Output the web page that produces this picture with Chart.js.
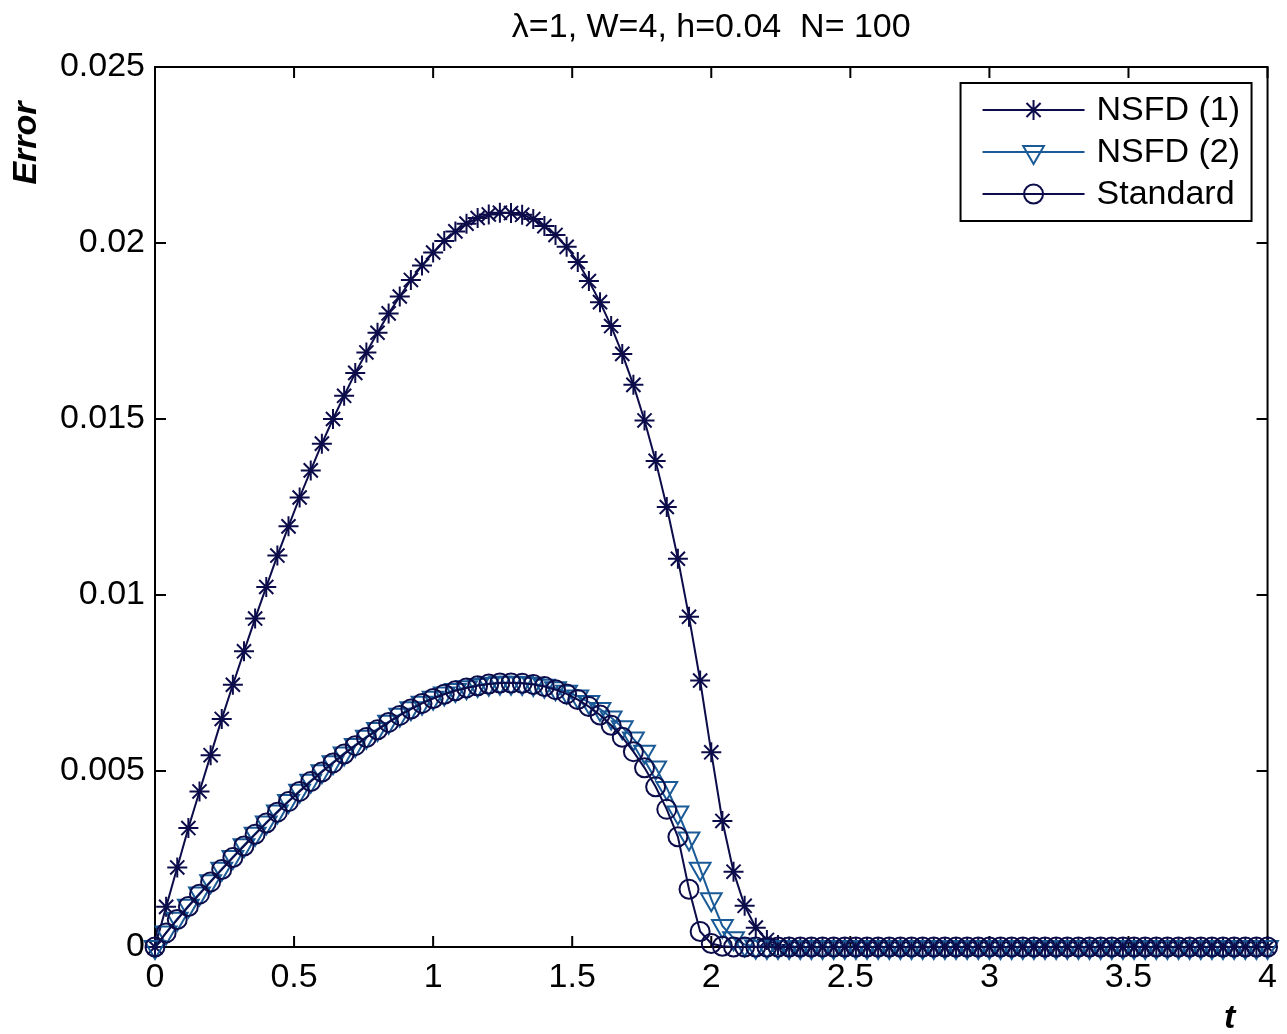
<!DOCTYPE html>
<html lang="en">
<head>
  <meta charset="UTF-8" />
  <title>Error vs t</title>
  <script src="https://cdn.jsdelivr.net/npm/chart.js"></script>
  <style>
    html, body { margin: 0; padding: 0; background: #fff; }
  </style>
</head>
<body>
  <canvas id="errChart" width="1287" height="1034"></canvas>

  <script>
    // time grid (h = 0.04, N = 100)
    const tValues = [
      0, 0.04, 0.08, 0.12, 0.16, 0.20, 0.24, 0.28, 0.32, 0.36,
      0.40, 0.44, 0.48, 0.52, 0.56, 0.60, 0.64, 0.68, 0.72, 0.76,
      0.80, 0.84, 0.88, 0.92, 0.96, 1.00, 1.04, 1.08, 1.12, 1.16,
      1.20, 1.24, 1.28, 1.32, 1.36, 1.40, 1.44, 1.48, 1.52, 1.56,
      1.60, 1.64, 1.68, 1.72, 1.76, 1.80, 1.84, 1.88, 1.92, 1.96,
      2.00, 2.04, 2.08, 2.12, 2.16, 2.20, 2.24, 2.28, 2.32, 2.36,
      2.40, 2.44, 2.48, 2.52, 2.56, 2.60, 2.64, 2.68, 2.72, 2.76,
      2.80, 2.84, 2.88, 2.92, 2.96, 3.00, 3.04, 3.08, 3.12, 3.16,
      3.20, 3.24, 3.28, 3.32, 3.36, 3.40, 3.44, 3.48, 3.52, 3.56,
      3.60, 3.64, 3.68, 3.72, 3.76, 3.80, 3.84, 3.88, 3.92, 3.96,
      4.00
    ];

    const nsfd1 = [
      0, 0.00114, 0.00226, 0.00338, 0.00442, 0.00545, 0.00648, 0.00745, 0.0084, 0.00933,
      0.01023, 0.01112, 0.01195, 0.01277, 0.01354, 0.0143, 0.015, 0.01566, 0.01631, 0.01689,
      0.01745, 0.018, 0.01848, 0.01895, 0.01936, 0.01973, 0.02006, 0.02033, 0.02055, 0.02071,
      0.02081, 0.02086, 0.02085, 0.0208, 0.02068, 0.02048, 0.02023, 0.01989, 0.01946, 0.01892,
      0.01832, 0.01764, 0.01685, 0.01597, 0.01496, 0.01381, 0.0125, 0.01103, 0.00938, 0.00757,
      0.00553, 0.00358, 0.00214, 0.00117, 0.00055, 0.0002, 0.00006, 0.00001, 0, 0,
      0, 0, 0, 0, 0, 0, 0, 0, 0, 0,
      0, 0, 0, 0, 0, 0, 0, 0, 0, 0,
      0, 0, 0, 0, 0, 0, 0, 0, 0, 0,
      0, 0, 0, 0, 0, 0, 0, 0, 0, 0,
      0
    ];

    const nsfd2 = [
      0, 0.00041, 0.0008, 0.00117, 0.00152, 0.00187, 0.00222, 0.00256, 0.00289, 0.00322,
      0.00354, 0.00385, 0.00415, 0.00444, 0.00472, 0.00499, 0.00525, 0.0055, 0.00574, 0.00597,
      0.00619, 0.0064, 0.0066, 0.00678, 0.00694, 0.00708, 0.0072, 0.0073, 0.00738, 0.00744,
      0.00748, 0.00751, 0.00751, 0.0075, 0.00747, 0.00742, 0.00735, 0.00725, 0.00712, 0.00696,
      0.00676, 0.00652, 0.00624, 0.00592, 0.00555, 0.0051, 0.00452, 0.00382, 0.00308, 0.00222,
      0.00136, 0.0006, 0.00025, 0.00007, 0.00001, 0, 0, 0, 0, 0,
      0, 0, 0, 0, 0, 0, 0, 0, 0, 0,
      0, 0, 0, 0, 0, 0, 0, 0, 0, 0,
      0, 0, 0, 0, 0, 0, 0, 0, 0, 0,
      0, 0, 0, 0, 0, 0, 0, 0, 0, 0,
      0
    ];

    const standard = [
      0, 0.0004, 0.00078, 0.00115, 0.0015, 0.00185, 0.0022, 0.00254, 0.00287, 0.0032,
      0.00352, 0.00383, 0.00413, 0.00442, 0.0047, 0.00497, 0.00523, 0.00548, 0.00572, 0.00595,
      0.00617, 0.00638, 0.00658, 0.00676, 0.00692, 0.00706, 0.00718, 0.00728, 0.00736, 0.00742,
      0.00747, 0.0075, 0.0075, 0.00749, 0.00746, 0.0074, 0.00731, 0.00719, 0.00703, 0.00683,
      0.00659, 0.0063, 0.00596, 0.00555, 0.00509, 0.00455, 0.00391, 0.00313, 0.00164, 0.00044,
      0.0001, 0.00002, 0, 0, 0, 0, 0, 0, 0, 0,
      0, 0, 0, 0, 0, 0, 0, 0, 0, 0,
      0, 0, 0, 0, 0, 0, 0, 0, 0, 0,
      0, 0, 0, 0, 0, 0, 0, 0, 0, 0,
      0, 0, 0, 0, 0, 0, 0, 0, 0, 0,
      0
    ];

    const seriesNames = ['NSFD (1)', 'NSFD (2)', 'Standard'];
    const xTickValues = [0, 0.5, 1, 1.5, 2, 2.5, 3, 3.5, 4];
    const xTickLabels = ['0', '0.5', '1', '1.5', '2', '2.5', '3', '3.5', '4'];
    const yTickValues = [0, 0.005, 0.01, 0.015, 0.02, 0.025];
    const yTickLabels = ['0', '0.005', '0.01', '0.015', '0.02', '0.025'];
    const titleText = '\u03bb=1, W=4, h=0.04  N= 100';

    const FONT = '"Liberation Sans", Arial, Helvetica, sans-serif';
    const NAVY = '#0c0c4a';
    const BLUE = '#1a5a96';

    const toPoints = ys => tValues.map((t, i) => ({ x: t, y: ys[i] }));

    // box, inward ticks, legend, title and axis names drawn MATLAB style
    const matlabFrame = {
      id: 'matlabFrame',
      beforeDatasetsDraw(chart) {
        const { ctx, chartArea: a, scales } = chart;
        const tl = 11;
        ctx.save();
        ctx.strokeStyle = '#000';
        ctx.lineWidth = 2;
        ctx.strokeRect(a.left, a.top, a.right - a.left, a.bottom - a.top);
        ctx.beginPath();
        xTickValues.forEach(v => {
          const px = scales.x.getPixelForValue(v);
          ctx.moveTo(px, a.bottom); ctx.lineTo(px, a.bottom - tl);
          ctx.moveTo(px, a.top); ctx.lineTo(px, a.top + tl);
        });
        yTickValues.forEach(v => {
          const py = scales.y.getPixelForValue(v);
          ctx.moveTo(a.left, py); ctx.lineTo(a.left + tl, py);
          ctx.moveTo(a.right, py); ctx.lineTo(a.right - tl, py);
        });
        ctx.stroke();
        ctx.restore();
      },
      afterDraw(chart) {
        const { ctx, chartArea: a } = chart;
        ctx.save();
        ctx.fillStyle = '#000';

        // title
        ctx.font = '34px ' + FONT;
        ctx.textAlign = 'center';
        ctx.textBaseline = 'middle';
        ctx.fillText(titleText, (a.left + a.right) / 2, a.top - 39);

        // axis names
        ctx.font = 'italic bold 34px ' + FONT;
        ctx.fillText('t', a.right - 38, a.bottom + 72);
        ctx.save();
        ctx.translate(a.left - 128, a.top + 76);
        ctx.rotate(-Math.PI / 2);
        ctx.fillText('Error', 0, 0);
        ctx.restore();

        // legend
        const w = 291, h = 138;
        const lx = a.right - 16 - w, ly = a.top + 16;
        ctx.fillStyle = '#fff';
        ctx.fillRect(lx, ly, w, h);
        ctx.strokeStyle = '#000';
        ctx.lineWidth = 2;
        ctx.strokeRect(lx, ly, w, h);
        chart.data.datasets.forEach((ds, i) => {
          const ry = ly + 27 + i * 42;
          ctx.strokeStyle = ds.borderColor;
          ctx.lineWidth = ds.borderWidth;
          ctx.beginPath();
          ctx.moveTo(lx + 22, ry);
          ctx.lineTo(lx + 124, ry);
          ctx.stroke();
          ctx.fillStyle = 'rgba(0,0,0,0)';
          ctx.lineWidth = ds.pointBorderWidth;
          Chart.helpers.drawPoint(ctx, {
            pointStyle: ds.pointStyle,
            radius: ds.pointRadius,
            rotation: ds.pointRotation || 0,
            borderWidth: ds.pointBorderWidth
          }, lx + 73, ry);
          ctx.fillStyle = '#000';
          ctx.font = '34px ' + FONT;
          ctx.textAlign = 'left';
          ctx.textBaseline = 'middle';
          ctx.fillText(seriesNames[i], lx + 136, ry + 1);
        });
        ctx.restore();
      }
    };

    const ctx = document.getElementById('errChart').getContext('2d');

    const chart = new Chart(ctx, {
      type: 'line',
      data: {
        datasets: [
          {
            label: seriesNames[0],
            data: toPoints(nsfd1),
            borderColor: NAVY,
            borderWidth: 2,
            pointStyle: 'star',
            pointRadius: 10,
            pointBorderColor: NAVY,
            pointBorderWidth: 2,
            pointBackgroundColor: 'rgba(0,0,0,0)',
            tension: 0,
            clip: false,
            order: 2
          },
          {
            label: seriesNames[1],
            data: toPoints(nsfd2),
            borderColor: BLUE,
            borderWidth: 2,
            pointStyle: 'triangle',
            pointRotation: 180,
            pointRadius: 12,
            pointBorderColor: BLUE,
            pointBorderWidth: 2,
            pointBackgroundColor: 'rgba(0,0,0,0)',
            tension: 0,
            clip: false,
            order: 1
          },
          {
            label: seriesNames[2],
            data: toPoints(standard),
            borderColor: NAVY,
            borderWidth: 2,
            pointStyle: 'circle',
            pointRadius: 9.5,
            pointBorderColor: NAVY,
            pointBorderWidth: 2,
            pointBackgroundColor: 'rgba(0,0,0,0)',
            tension: 0,
            clip: false,
            order: 0
          }
        ]
      },
      options: {
        responsive: false,
        animation: false,
        devicePixelRatio: 1,
        layout: { padding: { top: 67, right: 17, left: 0, bottom: 0 } },
        plugins: {
          legend: { display: false },
          tooltip: { enabled: false },
          title: { display: false }
        },
        scales: {
          x: {
            type: 'linear',
            min: 0,
            max: 4,
            grid: { display: false, drawTicks: false },
            border: { display: false },
            ticks: {
              stepSize: 0.5,
              padding: 10,
              color: '#000',
              font: { family: FONT, size: 34 },
              maxRotation: 0,
              callback: (v, i) => xTickLabels[i]
            },
            afterFit: s => { s.height = 87; }
          },
          y: {
            min: 0,
            max: 0.025,
            grid: { display: false, drawTicks: false },
            border: { display: false },
            ticks: {
              stepSize: 0.005,
              padding: 10,
              color: '#000',
              font: { family: FONT, size: 34 },
              callback: (v, i) => yTickLabels[i]
            },
            afterFit: s => { s.width = 155; }
          }
        }
      },
      plugins: [matlabFrame]
    });
  </script>
</body>
</html>
